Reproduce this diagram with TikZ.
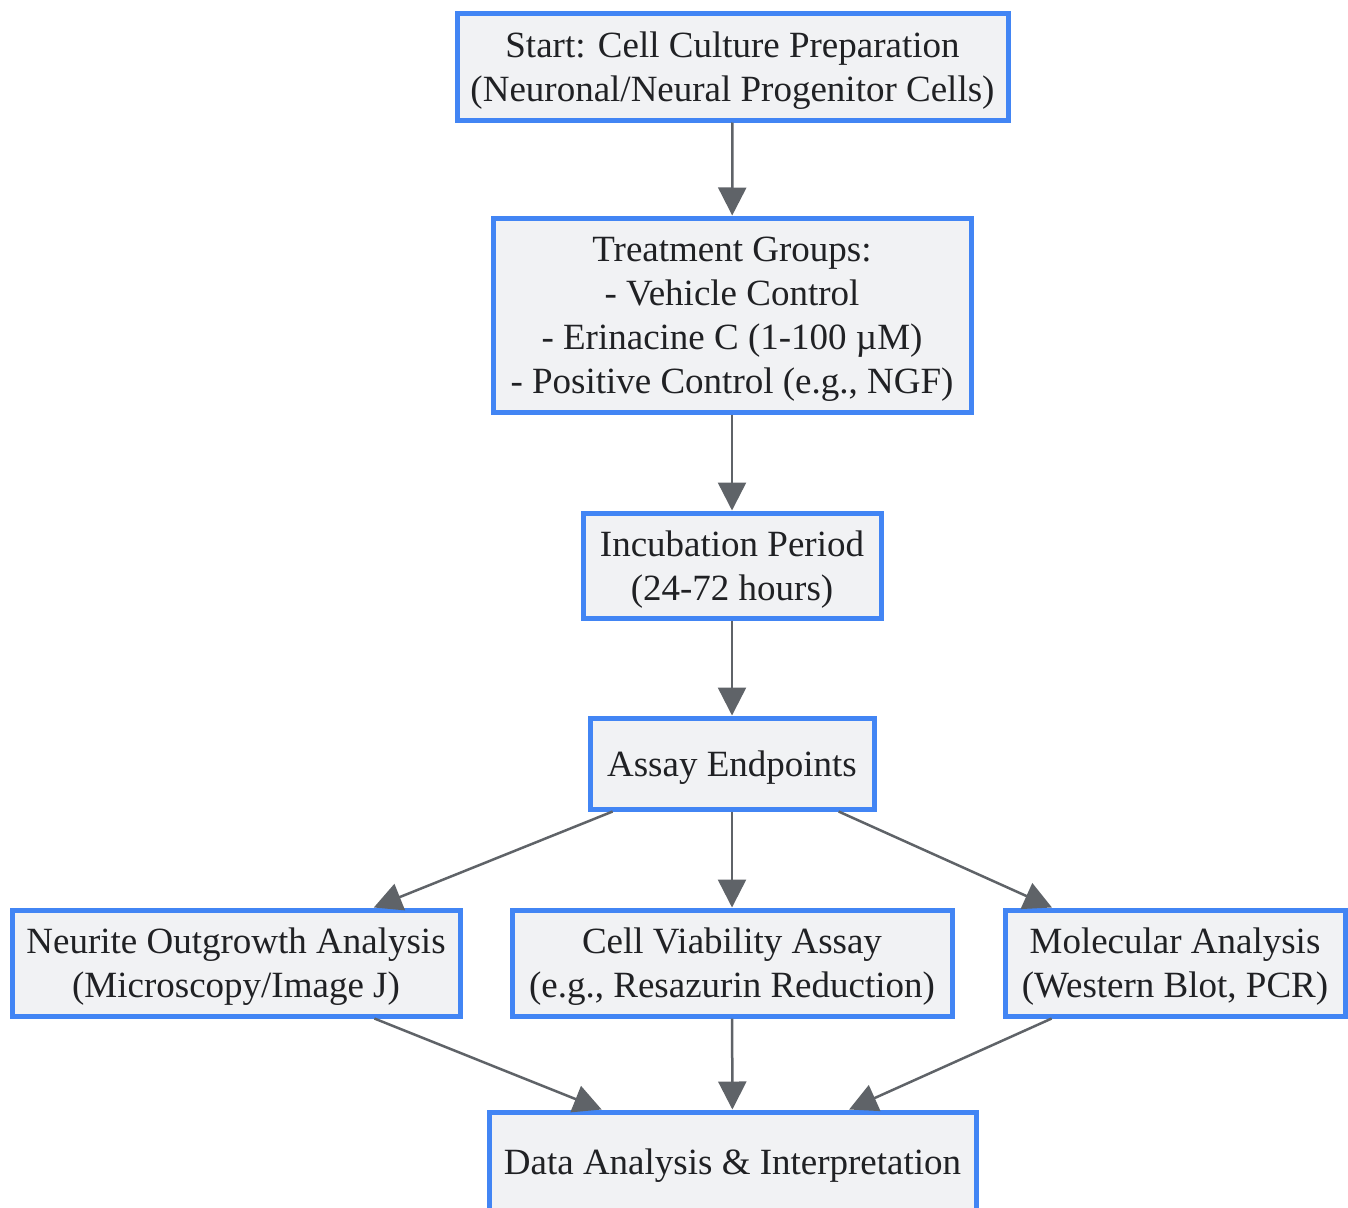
\documentclass[tikz,border=0pt]{standalone}
\usepackage{fontspec}
\setmainfont{Liberation Serif}
\usetikzlibrary{arrows.meta}
\newlength{\du}
\setlength{\du}{1pt}
\definecolor{boxline}{rgb}{0.259000, 0.522000, 0.957000}
\definecolor{boxfill}{rgb}{0.945000, 0.949000, 0.957000}
\definecolor{textcol}{rgb}{0.125000, 0.129000, 0.141000}
\definecolor{edgecol}{rgb}{0.373000, 0.388000, 0.408000}
\tikzset{
  stepbox/.style={draw=boxline, fill=boxfill, line width=5\du, text=textcol,
    align=center, inner sep=0pt, font=\fontsize{37}{44}\selectfont,
    text depth=-2.5\du},
  flow/.style={draw=edgecol, line width=2.5\du,
    -{Triangle[length=28pt,width=28pt]}}
}
\begin{document}
\begin{tikzpicture}
\pgftransformxscale{1.000000}
\pgftransformyscale{-1.000000}
\useasboundingbox (0\du,0\du) rectangle (1348\du,1207\du);
% boxes
\node[stepbox, minimum width=551\du, minimum height=106\du] (start) at (732.5\du,67\du)
  {Start: Cell Culture Preparation\\(Neuronal/Neural Progenitor Cells)};
\node[stepbox, minimum width=478\du, minimum height=194\du] (treat) at (732\du,315\du)
  {Treatment Groups:\\- Vehicle Control\\- Erinacine C (1-100 µM)\\- Positive Control (e.g., NGF)};
\node[stepbox, minimum width=298\du, minimum height=105\du] (incub) at (732\du,565.5\du)
  {Incubation Period\\(24-72 hours)};
\node[stepbox, minimum width=284\du, minimum height=91\du] (assay) at (732\du,763.5\du)
  {Assay Endpoints};
\node[stepbox, minimum width=448\du, minimum height=106\du] (neurite) at (236\du,963\du)
  {Neurite Outgrowth Analysis\\(Microscopy/Image J)};
\node[stepbox, minimum width=440\du, minimum height=106\du] (viab) at (732\du,963\du)
  {Cell Viability Assay\\(e.g., Resazurin Reduction)};
\node[stepbox, minimum width=340\du, minimum height=106\du] (molec) at (1175\du,963\du)
  {Molecular Analysis\\(Western Blot, PCR)};
\node[stepbox, minimum width=487\du, minimum height=100\du] (data) at (732.5\du,1162\du)
  {Data Analysis \& Interpretation};
% connectors
\draw[flow] (start) -- (treat);
\draw[flow] (treat) -- (incub);
\draw[flow] (incub) -- (assay);
\draw[flow] (assay) -- (neurite);
\draw[flow] (assay) -- (viab);
\draw[flow] (assay) -- (molec);
\draw[flow] (neurite) -- (data);
\draw[flow] (viab) -- (data);
\draw[flow] (molec) -- (data);
\end{tikzpicture}
\end{document}
